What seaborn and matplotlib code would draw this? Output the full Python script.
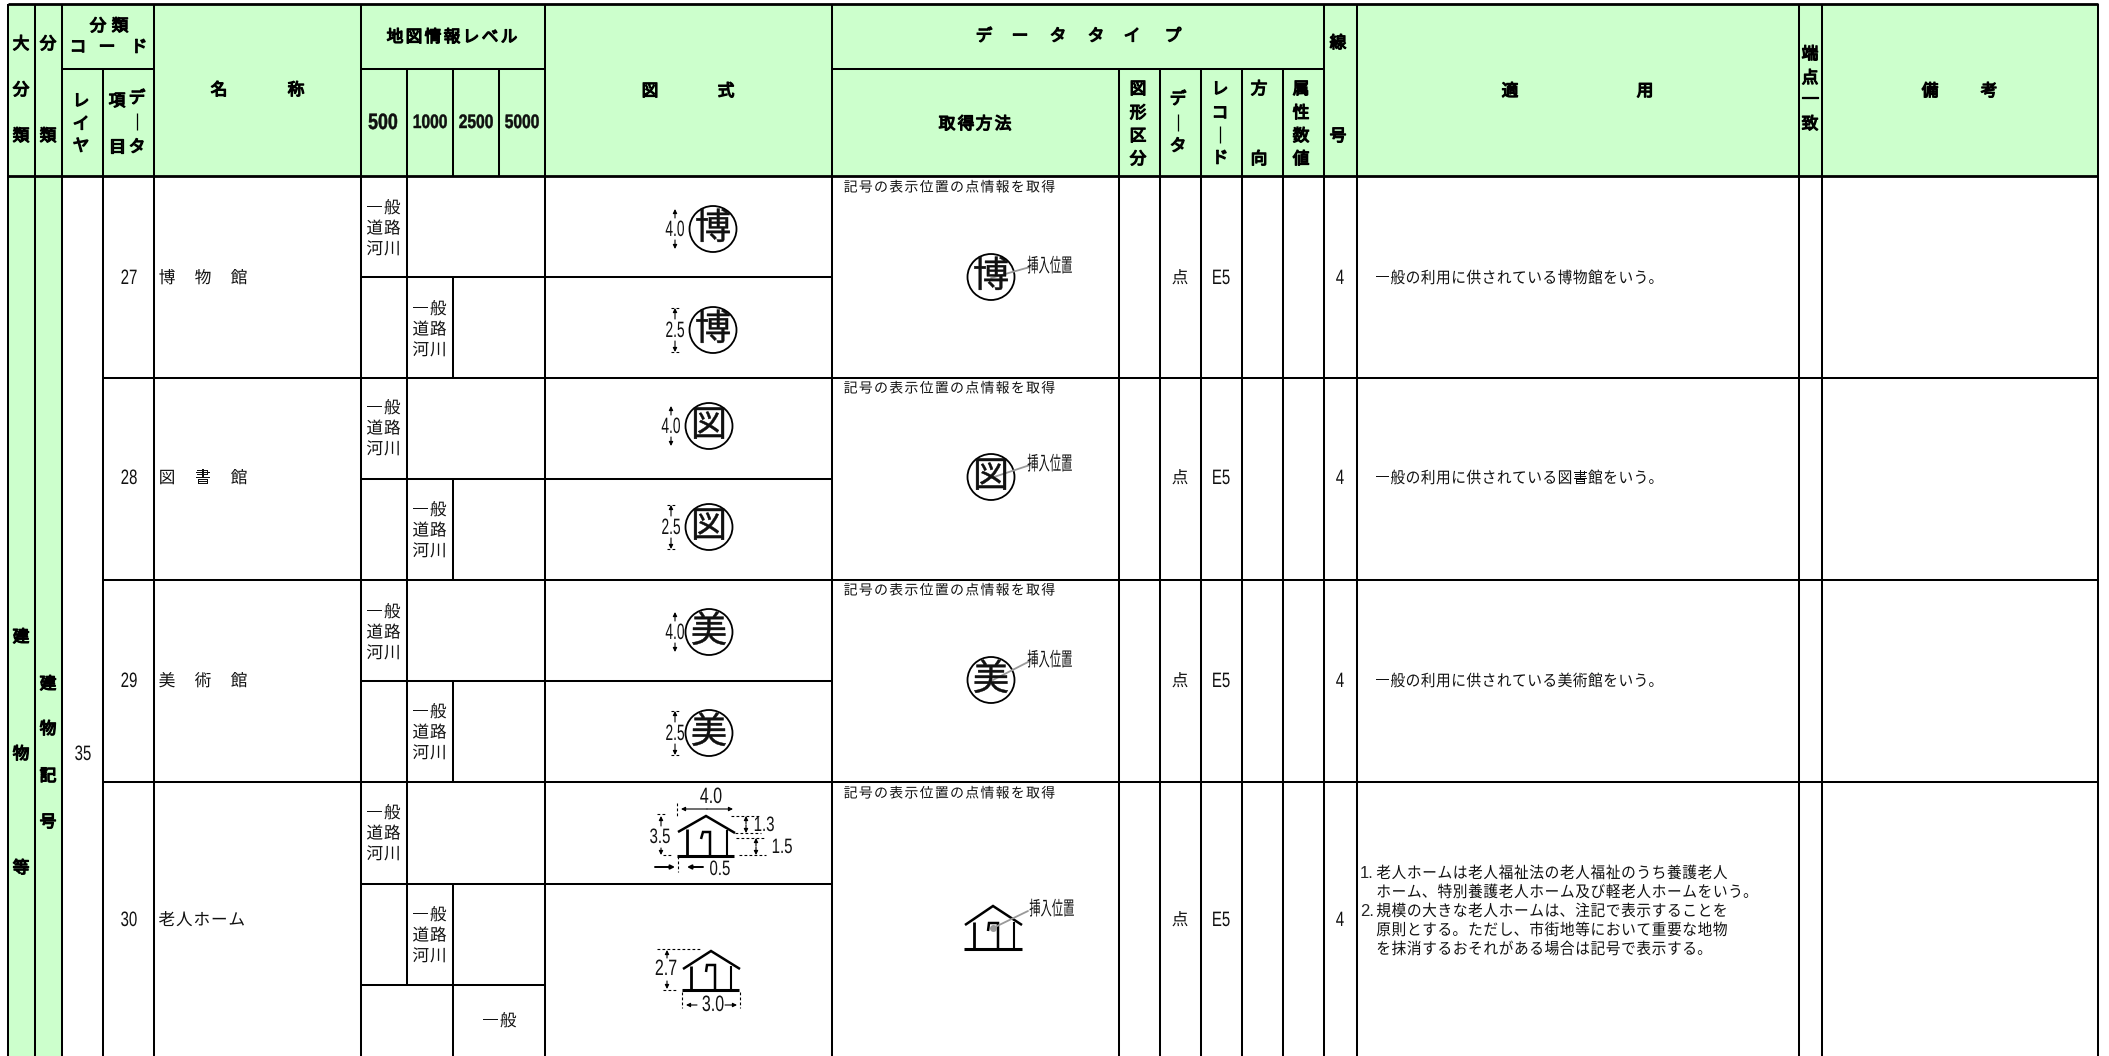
import numpy as np
import seaborn as sns
import matplotlib.pyplot as plt
from matplotlib.colors import ListedColormap
from matplotlib.patches import Ellipse
from matplotlib.patheffects import AbstractPathEffect
from matplotlib.transforms import Affine2D

sns.set_theme(style='white')
plt.rcParams['font.family'] = ['Noto Sans CJK JP', 'DejaVu Sans']

W, H = 2109, 1056
GREEN = '#CCFFCC'
LATIN = ['Liberation Sans', 'Noto Sans CJK JP']

# table
left_edge, right_edge, top_edge, head_bottom = 8, 2098, 4, 176
green_col_right = 62
full_cols = [8, 35, 62, 154, 361, 545, 832, 1324, 1357, 1799, 1822, 2098]
sub_cols = [103, 1119, 1160, 1201, 1242, 1283]
row_tops = [378, 580, 782]
split_lines = [277, 479, 681, 884]

# rows
codes = ['27', '28', '29', '30']
names = ['博 物 館', '図 書 館', '美 術 館', '老人ホーム']
name_pitch = [18, 18, 18, 17.5]
row_y = [277, 477, 680, 919]
level_y = [(228, 329), (428, 530), (632, 732), (833, 935)]
marks = ['博', '図', '美']
mark_x = [713, 709, 709]
mark_y = [(229, 330), (426, 527), (632, 733)]
sample_y = [277, 477, 680]
sample_label_y = [265, 463, 659]
dim_x = [675, 671, 675]
get_text = '記号の表示位置の点情報を取得'
get_y = [186, 387, 589, 792]
use_text = ['一般の利用に供されている博物館をいう。', '一般の利用に供されている図書館をいう。', '一般の利用に供されている美術館をいう。']
home_lines = ['老人ホームは老人福祉法の老人福祉のうち養護老人', 'ホーム、特別養護老人ホーム及び軽老人ホームをいう。',
              '規模の大きな老人ホームは、注記で表示することを', '原則とする。ただし、市街地等において重要な地物',
              'を抹消するおそれがある場合は記号で表示する。']
home_y = [872, 891, 910, 929, 948]

# header
head_cells = [
    ('大分類', 21, [43, 89, 135]), ('分類', 48, [43, 135]),
    ('レイヤ', 81, [100, 123, 145]), ('項目', 117, [100, 146]), ('デ｜タ', 137, [97, 122, 146]),
    ('図形区分', 1138, [88, 112, 135, 158]), ('デ｜タ', 1178, [98, 123, 145]),
    ('レコ｜ド', 1220, [88, 112, 135, 157]), ('方向', 1259, [88, 158]),
    ('属性数値', 1301, [88, 112, 135, 158]), ('線号', 1338, [42, 135]),
    ('端点一致', 1810, [53, 77, 98, 123]),
    ('建物等', 21, [636, 753, 867]), ('建物記号', 48, [683, 728, 775, 821]),
]
head_rows = [
    ('分類', [98, 120], 25), ('コード', [78, 107, 139], 46), ('名称', [219, 296], 89),
    ('地図情報レベル', [395, 414, 433, 452, 471, 490, 509], 36), ('図式', [650, 726], 90),
    ('データタイプ', [984, 1020, 1058, 1096, 1132, 1173], 35), ('取得方法', [947, 966, 984, 1003], 123),
    ('適用', [1510, 1645], 90), ('備考', [1930, 1989], 90),
]
scales = ['500', '1000', '2500', '5000']
scale_x = [383, 430, 476, 522]

fill = np.zeros((H, W))
fill[top_edge:head_bottom, left_edge:right_edge] = 1
fill[head_bottom:, left_edge:green_col_right] = 1

fig = plt.figure(figsize=(W / 100, H / 100), dpi=100, facecolor='white')
ax = fig.add_axes([0, 0, 1, 1])
sns.heatmap(fill, cmap=ListedColormap(['white', GREEN]), cbar=False, xticklabels=False, yticklabels=False, ax=ax)
ax.set_xlim(0, W)
ax.set_ylim(H, 0)


class Squeeze(AbstractPathEffect):
    # the source glyphs are condensed and heavier than the installed fonts
    def __init__(self, sx=1.0, stroke=0.0):
        super().__init__()
        self.sx = sx
        self.stroke = stroke

    def draw_path(self, renderer, gc, tpath, affine, rgbFace=None):
        ext = tpath.get_extents()
        cx = (ext.x0 + ext.x1) / 2
        tr = Affine2D().translate(-cx, 0).scale(self.sx, 1).translate(cx, 0) + affine
        gc0 = renderer.new_gc()
        gc0.copy_properties(gc)
        if self.stroke:
            gc0.set_linewidth(self.stroke)
            gc0.set_foreground('black')
        renderer.draw_path(gc0, tpath, tr, rgbFace)
        gc0.restore()


def center(x, y, s, size=10.5, sx=1.0, stroke=0.0, **kw):
    ax.text(x, y + 1.5, s, fontsize=size, ha='center', va='center', color='#111111',
            path_effects=[Squeeze(sx, stroke)], **kw)


def spaced(x, y, s, pitch, size=10.5, sx=1.0, stroke=0.0, **kw):
    # one text per glyph, the source table has wide letter spacing
    for i, ch in enumerate(s):
        if ch != ' ':
            center(x + i * pitch + pitch / 2, y, ch, size, sx, stroke, **kw)


def num(x, y, s, size=15, sx=0.72, stroke=0.0, **kw):
    center(x, y, s, size, sx, stroke, family=LATIN, **kw)


def arrow(x0, y0, x1, y1, lw=0.8):
    ax.annotate('', xy=(x1, y1), xytext=(x0, y0),
                arrowprops=dict(arrowstyle='-|>', color='black', lw=lw, mutation_scale=6, shrinkA=0, shrinkB=0))


def dash(xs, ys):
    ax.plot(xs, ys, color='black', lw=0.8, ls=(0, (2.5, 2)))


def poly(xs, ys, lw=2.0, color='black'):
    ax.plot(xs, ys, color=color, lw=lw, solid_capstyle='butt', solid_joinstyle='miter')


def house(base_y, xb, walls, roof_x, roof_y, door):
    poly(xb, [base_y, base_y], 2.2)
    poly([walls[0], walls[0]], [base_y, roof_y[0] - 3], 2.0)
    poly([walls[1], walls[1]], [base_y, roof_y[2] - 3], 1.5)
    poly(roof_x, roof_y, 1.8)
    poly(door[0], door[1], 1.8)


# rules
lw = 1.45
for x in full_cols:
    ax.vlines(x, top_edge, H, colors='black', lw=lw)
for x in sub_cols:
    ax.vlines(x, 69, H, colors='black', lw=lw)
ax.vlines(407, 69, 985, colors='black', lw=lw)
ax.vlines([453, 499], 69, 176, colors='black', lw=lw)
for y0, y1 in [(277, 378), (479, 580), (681, 782), (884, H)]:
    ax.vlines(453, y0, y1, colors='black', lw=lw)
ax.hlines([top_edge, head_bottom], left_edge, right_edge, colors='black', lw=2.0)
for x0, x1 in [(62, 154), (361, 545), (832, 1324)]:
    ax.hlines(69, x0, x1, colors='black', lw=lw)
ax.hlines(row_tops, 103, right_edge, colors='black', lw=lw)
ax.hlines(split_lines, 361, 832, colors='black', lw=lw)
ax.hlines(985, 361, 545, colors='black', lw=lw)

# header text
for s, x, ys in head_cells:
    for ch, y in zip(s, ys):
        center(x, y, ch, 12, stroke=0.9)
for s, xs, y in head_rows:
    for ch, x in zip(s, xs):
        center(x, y, ch, 12, stroke=0.9)
for i, (s, x) in enumerate(zip(scales, scale_x)):
    num(x, 122, s, 16 if i == 0 else 14, 0.8, 0.3, fontweight='bold')

# body text
num(83, 753, '35')
for i in range(4):
    num(129, row_y[i], codes[i])
    spaced(158, row_y[i], names[i], name_pitch[i], 12)
    num(1340, row_y[i], '4')
    center(1180, row_y[i], '点', 12)
    num(1221, row_y[i], 'E5')
    spaced(843, get_y[i], get_text, 15.2, 10)
    for x, y in zip((366, 412), level_y[i]):
        for j, s in enumerate(['一般', '道路', '河川']):
            spaced(x, y - 21 + j * 20.5, s, 17.5, 12)
for y, s in zip(sample_y, use_text):
    spaced(1375, y, s, 15.2, 11.5, 0.92)
spaced(482, 1020, '一般', 17.5, 12)
for y, s in zip(home_y, home_lines):
    spaced(1376, y, s, 15.3, 11.5, 0.92)
ax.text(1360, home_y[0] + 1, '1.', fontsize=12, ha='left', va='center', family=LATIN)
ax.text(1360, home_y[2] + 1, '2.', fontsize=12, ha='left', va='center', family=LATIN)

# circled symbols in the figure column
for m, mx, my, dx in zip(marks, mark_x, mark_y, dim_x):
    for k, (y, label) in enumerate(zip(my, ('4.0', '2.5'))):
        ax.add_patch(Ellipse((mx, y), 47, 46, fill=False, ec='black', lw=1.3))
        center(mx, y - 1.5, m, 26, stroke=0.3)
        num(dx, y, label, 16, 0.62)
        span = 20 if k == 0 else 22
        arrow(dx, y - 11, dx, y - span)
        arrow(dx, y + 11, dx, y + span)
        if k == 1:
            dash([dx - 4, dx + 4], [y - span, y - span])
            dash([dx - 4, dx + 4], [y + span, y + span])

# symbols in the acquisition column
for m, y, ly in zip(marks, sample_y, sample_label_y):
    ax.plot([991, 1030], [y + 1, ly + 2], color='#999999', lw=1.3)
    ax.add_patch(Ellipse((991, y), 47, 46, fill=False, ec='black', lw=1.3))
    center(991, y - 1.5, m, 26, stroke=0.3)
    center(1050, ly, '挿入位置', 14, 0.58)

# houses
house(856, [677, 734], [687, 727], [678, 706, 735], [832, 816, 833], ([701, 703, 710, 710], [839, 832, 832, 856]))
num(711, 796, '4.0', 16, 0.72)
arrow(707, 809, 681, 809)
arrow(707, 809, 733, 809)
dash([677, 677], [803, 818])
dash([657, 666], [814, 814])
dash([663, 672], [855, 855])
num(660, 836, '3.5', 15, 0.72)
arrow(661, 826, 661, 816)
arrow(661, 848, 661, 855)
dash([731, 761], [816, 816])
dash([735, 761], [833, 833])
arrow(746, 824, 746, 816)
arrow(746, 825, 746, 833)
num(764, 824, '1.3', 15, 0.72)
dash([736, 766], [838, 838])
dash([739, 766], [855, 855])
arrow(756, 846, 756, 838)
arrow(756, 847, 756, 855)
num(782, 846, '1.5', 15, 0.72)
arrow(655, 867, 675, 867, 1.4)
dash([678, 678], [856, 872])
arrow(703, 867, 687, 867, 1.4)
num(720, 868, '0.5', 15, 0.72)

house(990, [682, 739], [691, 731], [683, 711, 740], [969, 951, 969], ([706, 707, 715, 715], [972, 965, 965, 990]))
num(666, 968, '2.7', 16, 0.72)
dash([657, 701], [949, 949])
dash([663, 676], [990, 990])
arrow(667, 958, 667, 950)
arrow(667, 981, 667, 989)
dash([682, 682], [992, 1008])
dash([740, 740], [992, 1008])
num(713, 1004, '3.0', 16, 0.72)
arrow(697, 1005, 686, 1005)
arrow(725, 1005, 737, 1005)

house(949, [964, 1022], [974, 1014], [965, 993, 1022], [925, 906, 925], ([988, 989, 998, 998], [931, 923, 923, 949]))
ax.plot([993, 1028], [928, 911], color='#999999', lw=1.3)
ax.plot([993], [928], 'o', color='#999999', ms=4)
center(1052, 908, '挿入位置', 14, 0.58)

fig.savefig('out.png', dpi=100)
